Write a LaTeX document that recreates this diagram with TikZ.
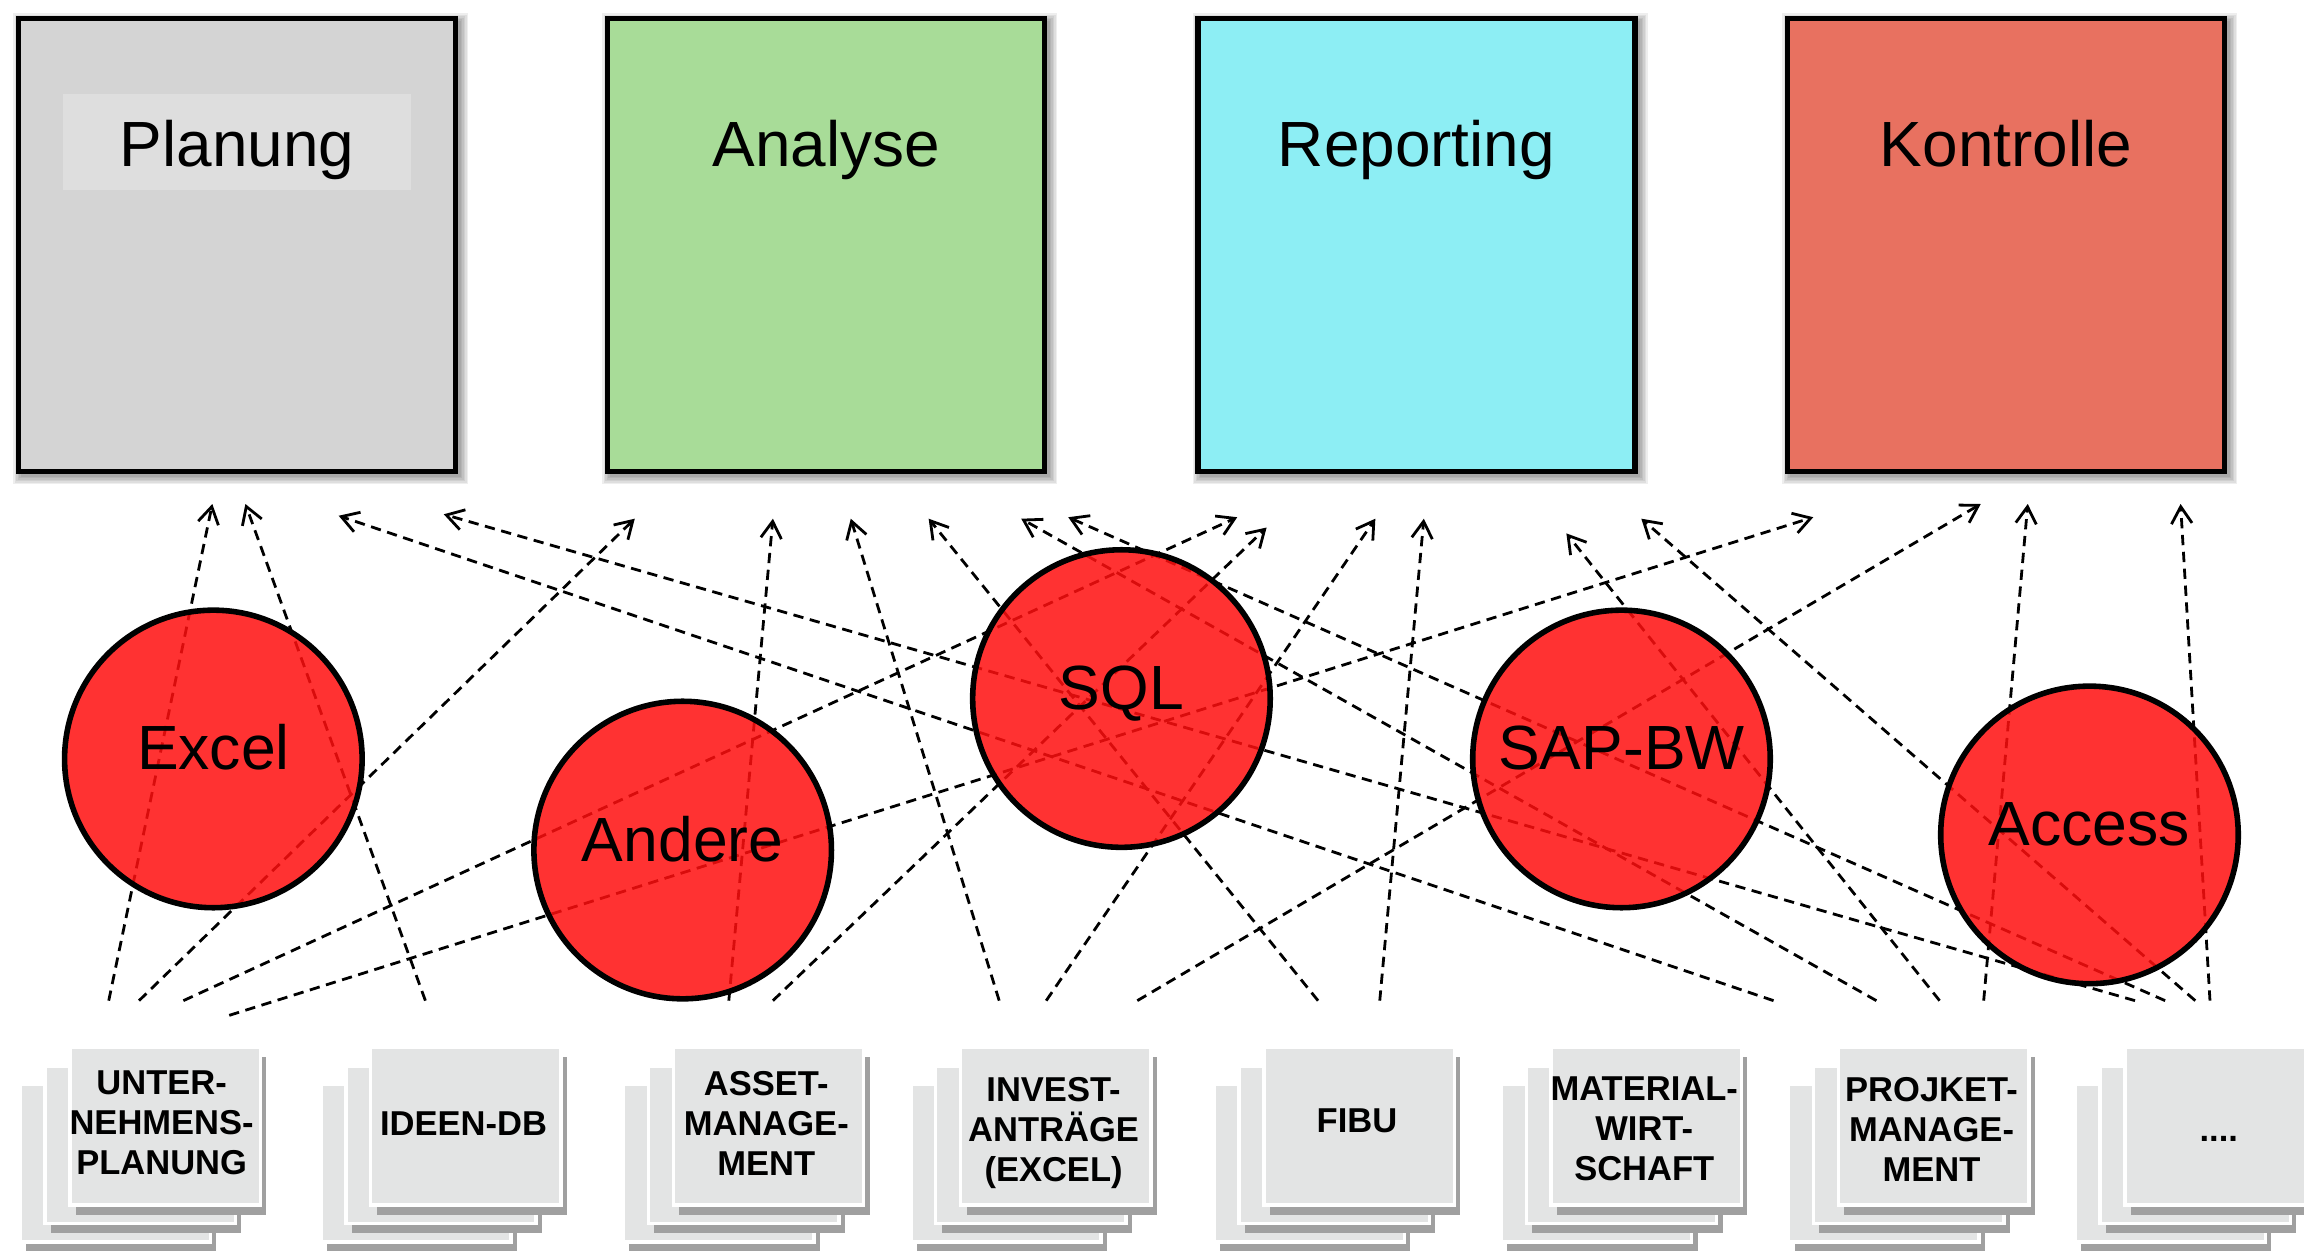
\documentclass[tikz,border=0pt]{standalone}
\usepackage{fontspec}
\setmainfont{Liberation Sans}
\usetikzlibrary{arrows.meta,calc}
\definecolor{planungfill}{HTML}{D4D4D4}
\definecolor{planunginner}{HTML}{DEDEDE}
\definecolor{analysefill}{HTML}{A8DC98}
\definecolor{reportingfill}{HTML}{8DEEF4}
\definecolor{kontrollefill}{HTML}{E87160}
\definecolor{toolred}{RGB}{255,15,15}
\definecolor{sheetgray}{HTML}{E3E4E4}
\definecolor{sheetshadow}{HTML}{A0A0A0}
\newcommand\srcstack[2]{%
  \node[sheetsh] (#2-sb) at (#1-34+4, 791.5+6.5) {};
  \node[sheet]   (#2-b)  at (#1-34, 791.5) {};
  \node[sheetsh] (#2-sm) at (#1-17+4, 779+6.5) {};
  \node[sheet]   (#2-m)  at (#1-17, 779) {};
  \node[sheetsh] (#2-sf) at (#1+4, 766.5+6.5) {};
  \node[sheet]   (#2)    at (#1, 766.5) {};
}
\begin{document}
\begin{tikzpicture}[x=1pt,y=-1pt,
  topbox/.style={draw=black, line width=3.7pt, minimum width=297.5pt, minimum height=308.5pt, inner sep=0pt},
  toplabel/.style={anchor=base, font=\fontsize{43.5}{50}\selectfont, inner sep=0pt},
  tool/.style={circle, draw=black, line width=3.8pt, fill=toolred, fill opacity=0.85, draw opacity=1, minimum size=202.5pt, inner sep=0pt},
  toollabel/.style={anchor=base, font=\fontsize{42.5}{48}\selectfont, inner sep=0pt},
  sheet/.style={draw=white, fill=sheetgray, line width=2.5pt, minimum width=129.5pt, minimum height=107.5pt, inner sep=0pt},
  sheetsh/.style={fill=sheetshadow, draw=none, minimum width=129.5pt, minimum height=107.5pt, inner sep=0pt},
  srclabel/.style={align=center, font=\bfseries\fontsize{23.5}{27.2}\selectfont, inner sep=0pt},
  conn/.style={line width=1.9pt, dash pattern=on 7pt off 4.5pt, -{Straight Barb[length=11.5pt,width=14pt]}},
]
\useasboundingbox (0,0) rectangle (1568,851);
\clip (0,0) rectangle (1568,851);
\fill[white] (0,0) rectangle (1568,851);

% soft shadows of the top boxes
\foreach \cx in {161.25,562.25,964,1365.25} {
  \foreach \k in {1,...,6} {
    \fill[black, opacity=0.065] (\cx-148.75-\k+2.5, 12.5-\k+2.5) rectangle (\cx+148.75+\k+2.5, 321+\k+2.5);
  }
}

% top boxes
\node[topbox, fill=planungfill]    (planung)   at (161.25,166.75) {};
\node[topbox, fill=analysefill]    (analyse)   at (562.25,166.75) {};
\node[topbox, fill=reportingfill]  (reporting) at (964,166.75) {};
\node[topbox, fill=kontrollefill]  (kontrolle) at (1365.25,166.75) {};
\fill[planunginner] (43,64) rectangle (279.5,129.5);
\node[toplabel] (planung-t)   at (161.25,113.5) {Planung};
\node[toplabel] (analyse-t)   at (562.25,113.5) {Analyse};
\node[toplabel] (reporting-t) at (964,113.5)    {Reporting};
\node[toplabel] (kontrolle-t) at (1365.25,113.5) {Kontrolle};

% source stacks
\srcstack{112.5}{up}
\srcstack{317}{idee}
\srcstack{523}{asset}
\srcstack{718.5}{invest}
\srcstack{925}{fibu}
\srcstack{1120.5}{mat}
\srcstack{1316}{proj}
\srcstack{1511}{more}
\node[srclabel] (up-t) at (110,764.3) {UNTER-\\NEHMENS-\\PLANUNG};
\node[srclabel, anchor=base] (idee-t) at (315.5,772.6) {IDEEN-DB};
\node[srclabel] (asset-t) at (521.5,764.3) {ASSET-\\MANAGE-\\MENT};
\node[srclabel] (invest-t) at (717,770.9) {INVEST-\\ANTRÄGE\\(EXCEL)};
\node[srclabel, anchor=base] (fibu-t) at (923.5,770.4) {FIBU};
\node[srclabel] (mat-t) at (1119,768.4) {MATERIAL-\\WIRT-\\SCHAFT};
\node[srclabel] (proj-t) at (1314.5,768.4) {PROJKET-\\MANAGE-\\MENT};
\node[srclabel, anchor=base] (more-t) at (1510,777) {....};

% connector end points
\coordinate (s1) at (74,681);     \coordinate (t1) at (144.5,343);
\coordinate (s2) at (289.5,681);  \coordinate (t2) at (167,343);
\coordinate (s3) at (1207,681);   \coordinate (t3) at (230.5,351);
\coordinate (s4) at (1453,681);   \coordinate (t4) at (302,350);
\coordinate (s5) at (94.6,681);   \coordinate (t5) at (432,353);
\coordinate (s6) at (496,681);    \coordinate (t6) at (526,353);
\coordinate (s7) at (680,681);    \coordinate (t7) at (579,353);
\coordinate (s8) at (897,681);    \coordinate (t8) at (632,353);
\coordinate (s9) at (1277,681);   \coordinate (t9) at (695,353);
\coordinate (s10) at (1473.5,681);\coordinate (t10) at (727,352);
\coordinate (s11) at (124.8,681); \coordinate (t11) at (842,352);
\coordinate (s12) at (526,681);   \coordinate (t12) at (862,359);
\coordinate (s13) at (712,681);   \coordinate (t13) at (936,353);
\coordinate (s14) at (939,681);   \coordinate (t14) at (969,353);
\coordinate (s15) at (1320,681);  \coordinate (t15) at (1066,363);
\coordinate (s16) at (1494,681);  \coordinate (t16) at (1117,353);
\coordinate (s17) at (156,691);   \coordinate (t17) at (1234,352);
\coordinate (s18) at (774,681);   \coordinate (t18) at (1348,343);
\coordinate (s19) at (1350,681);  \coordinate (t19) at (1380,343);
\coordinate (s20) at (1504,681);  \coordinate (t20) at (1484,343);
\foreach \i in {1,...,20} { \draw[conn] (s\i) -- (t\i); }

% tools
\node[tool] (excel)  at (145.2,516.5) {};
\node[tool] (andere) at (464.6,578.5) {};
\node[tool] (sql)    at (763.2,475.4) {};
\node[tool] (sapbw)  at (1103.5,516.5) {};
\node[tool] (access) at (1422,568.2) {};
\node[toollabel] (excel-t)  at ($(excel.center)+(0,7.5)$)  {Excel};
\node[toollabel] (andere-t) at ($(andere.center)+(0,7.5)$) {Andere};
\node[toollabel] (sql-t)    at ($(sql.center)+(0,7.5)$)    {SQL};
\node[toollabel] (sapbw-t)  at ($(sapbw.center)+(0,7.5)$)  {SAP-BW};
\node[toollabel] (access-t) at ($(access.center)+(0,7.5)$) {Access};
\end{tikzpicture}
\end{document}
